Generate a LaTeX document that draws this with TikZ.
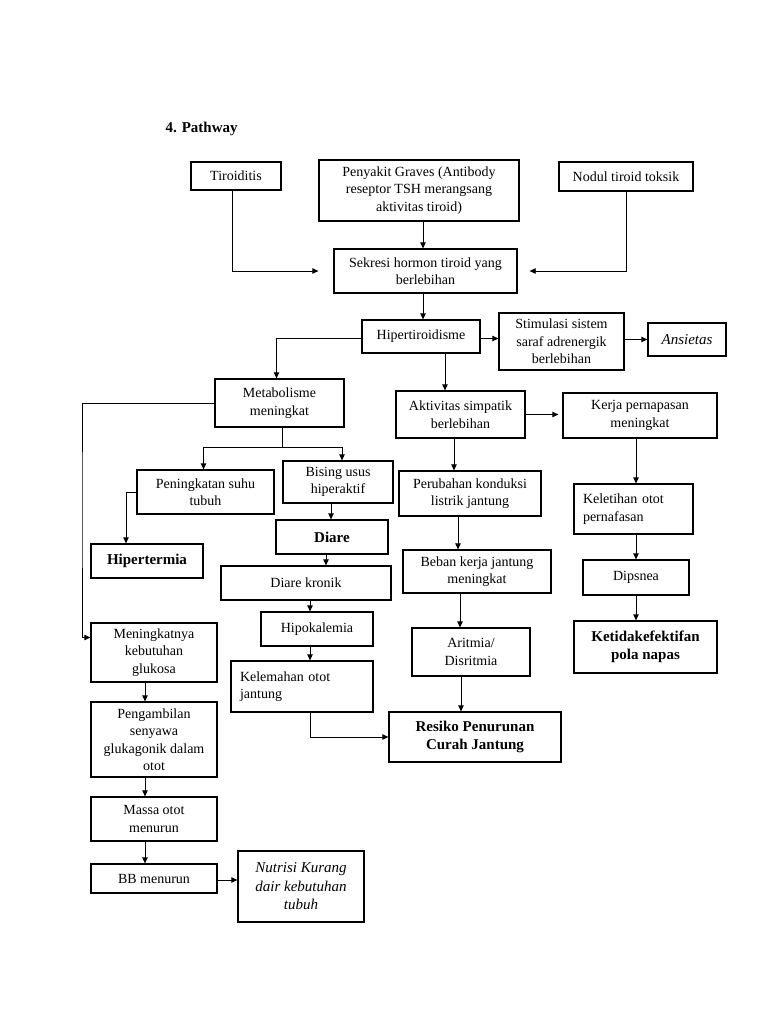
\documentclass[tikz,border=0pt]{standalone}
\usepackage{fontspec}
\setmainfont{Liberation Serif}
\usetikzlibrary{arrows.meta}
\begin{document}
\begin{tikzpicture}[x=1pt,y=-1pt,
  font=\fontsize{14}{17.5}\selectfont,
  box/.style={draw, line width=1.3pt, align=center, inner sep=2pt},
  boldbox/.style={box, font=\fontsize{15}{18.5}\selectfont\bfseries},
  itbox/.style={box, font=\fontsize{15}{18.5}\selectfont\itshape},
  conn/.style={line width=0.8pt},
  arr/.style={conn, -{Triangle[length=6pt,width=5.5pt]}}
]
\useasboundingbox (0,0) rectangle (768,1024);
\fill[white] (0,0) rectangle (768,1024);

\node[anchor=west, font=\fontsize{15}{18}\selectfont\bfseries] (title) at (162,129) {4. Pathway};

% row 1
\node[box, minimum width=90, minimum height=28] (tiro) at (236,176) {Tiroiditis};
\node[box, minimum width=200, minimum height=61] (graves) at (419,190.5) {Penyakit Graves (Antibody\\reseptor TSH merangsang\\aktivitas tiroid)};
\node[box, minimum width=134, minimum height=29] (nodul) at (626,176.5) {Nodul tiroid toksik};
\node[box, minimum width=183, minimum height=44] (sekresi) at (425.5,271) {Sekresi hormon tiroid yang\\berlebihan};

\node[box, minimum width=118, minimum height=33] (hiper) at (421,336.5) {Hipertiroidisme};
\node[box, minimum width=125, minimum height=57] (stim) at (561.5,341.5) {Stimulasi sistem\\saraf adrenergik\\berlebihan};
\node[itbox, minimum width=78, minimum height=33] (ansi) at (687,339.5) {Ansietas};

\node[box, minimum width=129, minimum height=48] (metab) at (279.5,403) {Metabolisme\\meningkat};
\node[box, minimum width=129, minimum height=47] (aktiv) at (460.5,414.5) {Aktivitas simpatik\\berlebihan};
\node[box, minimum width=154, minimum height=45] (kerja) at (640,415.5) {Kerja pernapasan\\meningkat};

\node[box, minimum width=137, minimum height=44] (pening) at (205.5,492) {Peningkatan suhu\\tubuh};
\node[box, minimum width=110, minimum height=42] (bising) at (338,482) {Bising usus\\hiperaktif};
\node[box, minimum width=142, minimum height=45] (perub) at (470,493.5) {Perubahan konduksi\\listrik jantung};
\node[box, minimum height=50, text width=101, inner xsep=9pt, align=left] (kelet) at (633.5,509) {Keletihan otot\\pernafasan};

\node[boldbox, minimum width=112, minimum height=34] (hipert) at (147,561) {Hipertermia};
\node[boldbox, minimum width=112, minimum height=34] (diare) at (332,537) {Diare};
\node[box, minimum width=170, minimum height=34] (kronik) at (306,583) {Diare kronik};
\node[box, minimum width=148, minimum height=43] (beban) at (477,571.5) {Beban kerja jantung\\meningkat};
\node[box, minimum width=106, minimum height=35] (dips) at (636,577.5) {Dipsnea};

\node[box, minimum width=112, minimum height=34] (hipok) at (317,629) {Hipokalemia};
\node[box, minimum width=118, minimum height=48] (aritmia) at (471,652) {Aritmia/\\Disritmia};
\node[boldbox, minimum width=143, minimum height=52] (ketid) at (645.5,647) {Ketidakefektifan\\pola napas};

\node[box, minimum width=126, minimum height=59] (mening) at (154,652.5) {Meningkatnya\\kebutuhan\\glukosa};
\node[box, minimum height=51, text width=124, inner xsep=9pt, align=left] (kelem) at (302,686.5) {Kelemahan otot\\jantung};
\node[boldbox, minimum width=172, minimum height=50] (resiko) at (475,737) {Resiko Penurunan\\Curah Jantung};

\node[box, minimum width=126, minimum height=75] (pengam) at (154,739.5) {Pengambilan\\senyawa\\glukagonik dalam\\otot};
\node[box, minimum width=126, minimum height=44] (massa) at (154,819) {Massa otot\\menurun};
\node[box, minimum width=126, minimum height=29] (bb) at (154,878.5) {BB menurun};
\node[itbox, minimum width=126, minimum height=71] (nutri) at (301,886.5) {Nutrisi Kurang\\dair kebutuhan\\tubuh};

% connectors
\draw[arr, shorten >=15pt] ([xshift=-4pt]tiro.south) |- (sekresi.west);
\draw[arr, shorten >=12pt] (nodul.south) |- (sekresi.east);
\draw[arr] (graves.south -| 423,0) -- (sekresi.north -| 423,0);
\draw[arr] (sekresi.south -| 423,0) -- (hiper.north -| 423,0);
\draw[arr] ([yshift=-2pt]hiper.east) -- ([yshift=-2pt]hiper.east -| stim.west);
\draw[arr] (stim.east |- ansi.west) -- (ansi.west);
\draw[arr] ([yshift=-2pt]hiper.west) -| ([xshift=-3pt]metab.north);
\draw[arr] (hiper.south -| 445,0) -- (aktiv.north -| 445,0);

\coordinate (mj) at (282,447);
\draw[conn] (metab.south -| mj) -- (mj);
\draw[arr] (mj) -| ([xshift=-2pt]pening.north);
\draw[arr] (mj) -| ([xshift=4pt]bising.north);
\draw[arr] (metab.west) -| (82,500) |- ([yshift=15pt]mening.west);

\draw[arr] (pening.west) -| ([xshift=-21pt]hipert.north);
\draw[arr] (bising.south -| 331,0) -- (diare.north -| 331,0);
\draw[arr] (diare.south -| 326,0) -- (kronik.north -| 326,0);
\draw[arr] (kronik.south -| 310,0) -- (hipok.north -| 310,0);
\draw[arr] (hipok.south -| 310,0) -- (kelem.north -| 310,0);
\draw[arr] (kelem.south -| 310,0) |- (resiko.west);

\draw[arr, shorten >=4pt] (aktiv.east) -- (aktiv.east -| kerja.west);
\draw[arr] (aktiv.south -| 454,0) -- (perub.north -| 454,0);
\draw[arr] (perub.south -| 458,0) -- (beban.north -| 458,0);
\draw[arr] (beban.south -| 460,0) -- (aritmia.north -| 460,0);
\draw[arr] (aritmia.south -| 461,0) -- (resiko.north -| 461,0);

\draw[arr] (kerja.south -| 636,0) -- (kelet.north -| 636,0);
\draw[arr] (kelet.south -| 636,0) -- (dips.north -| 636,0);
\draw[arr] (dips.south -| 636,0) -- (ketid.north -| 636,0);

\draw[arr] (mening.south -| 145,0) -- (pengam.north -| 145,0);
\draw[arr] (pengam.south -| 145,0) -- (massa.north -| 145,0);
\draw[arr] (massa.south -| 145,0) -- (bb.north -| 145,0);
\draw[arr] ([yshift=-1.5pt]bb.east) -- ([yshift=-1.5pt]bb.east -| nutri.west);
\end{tikzpicture}
\end{document}
